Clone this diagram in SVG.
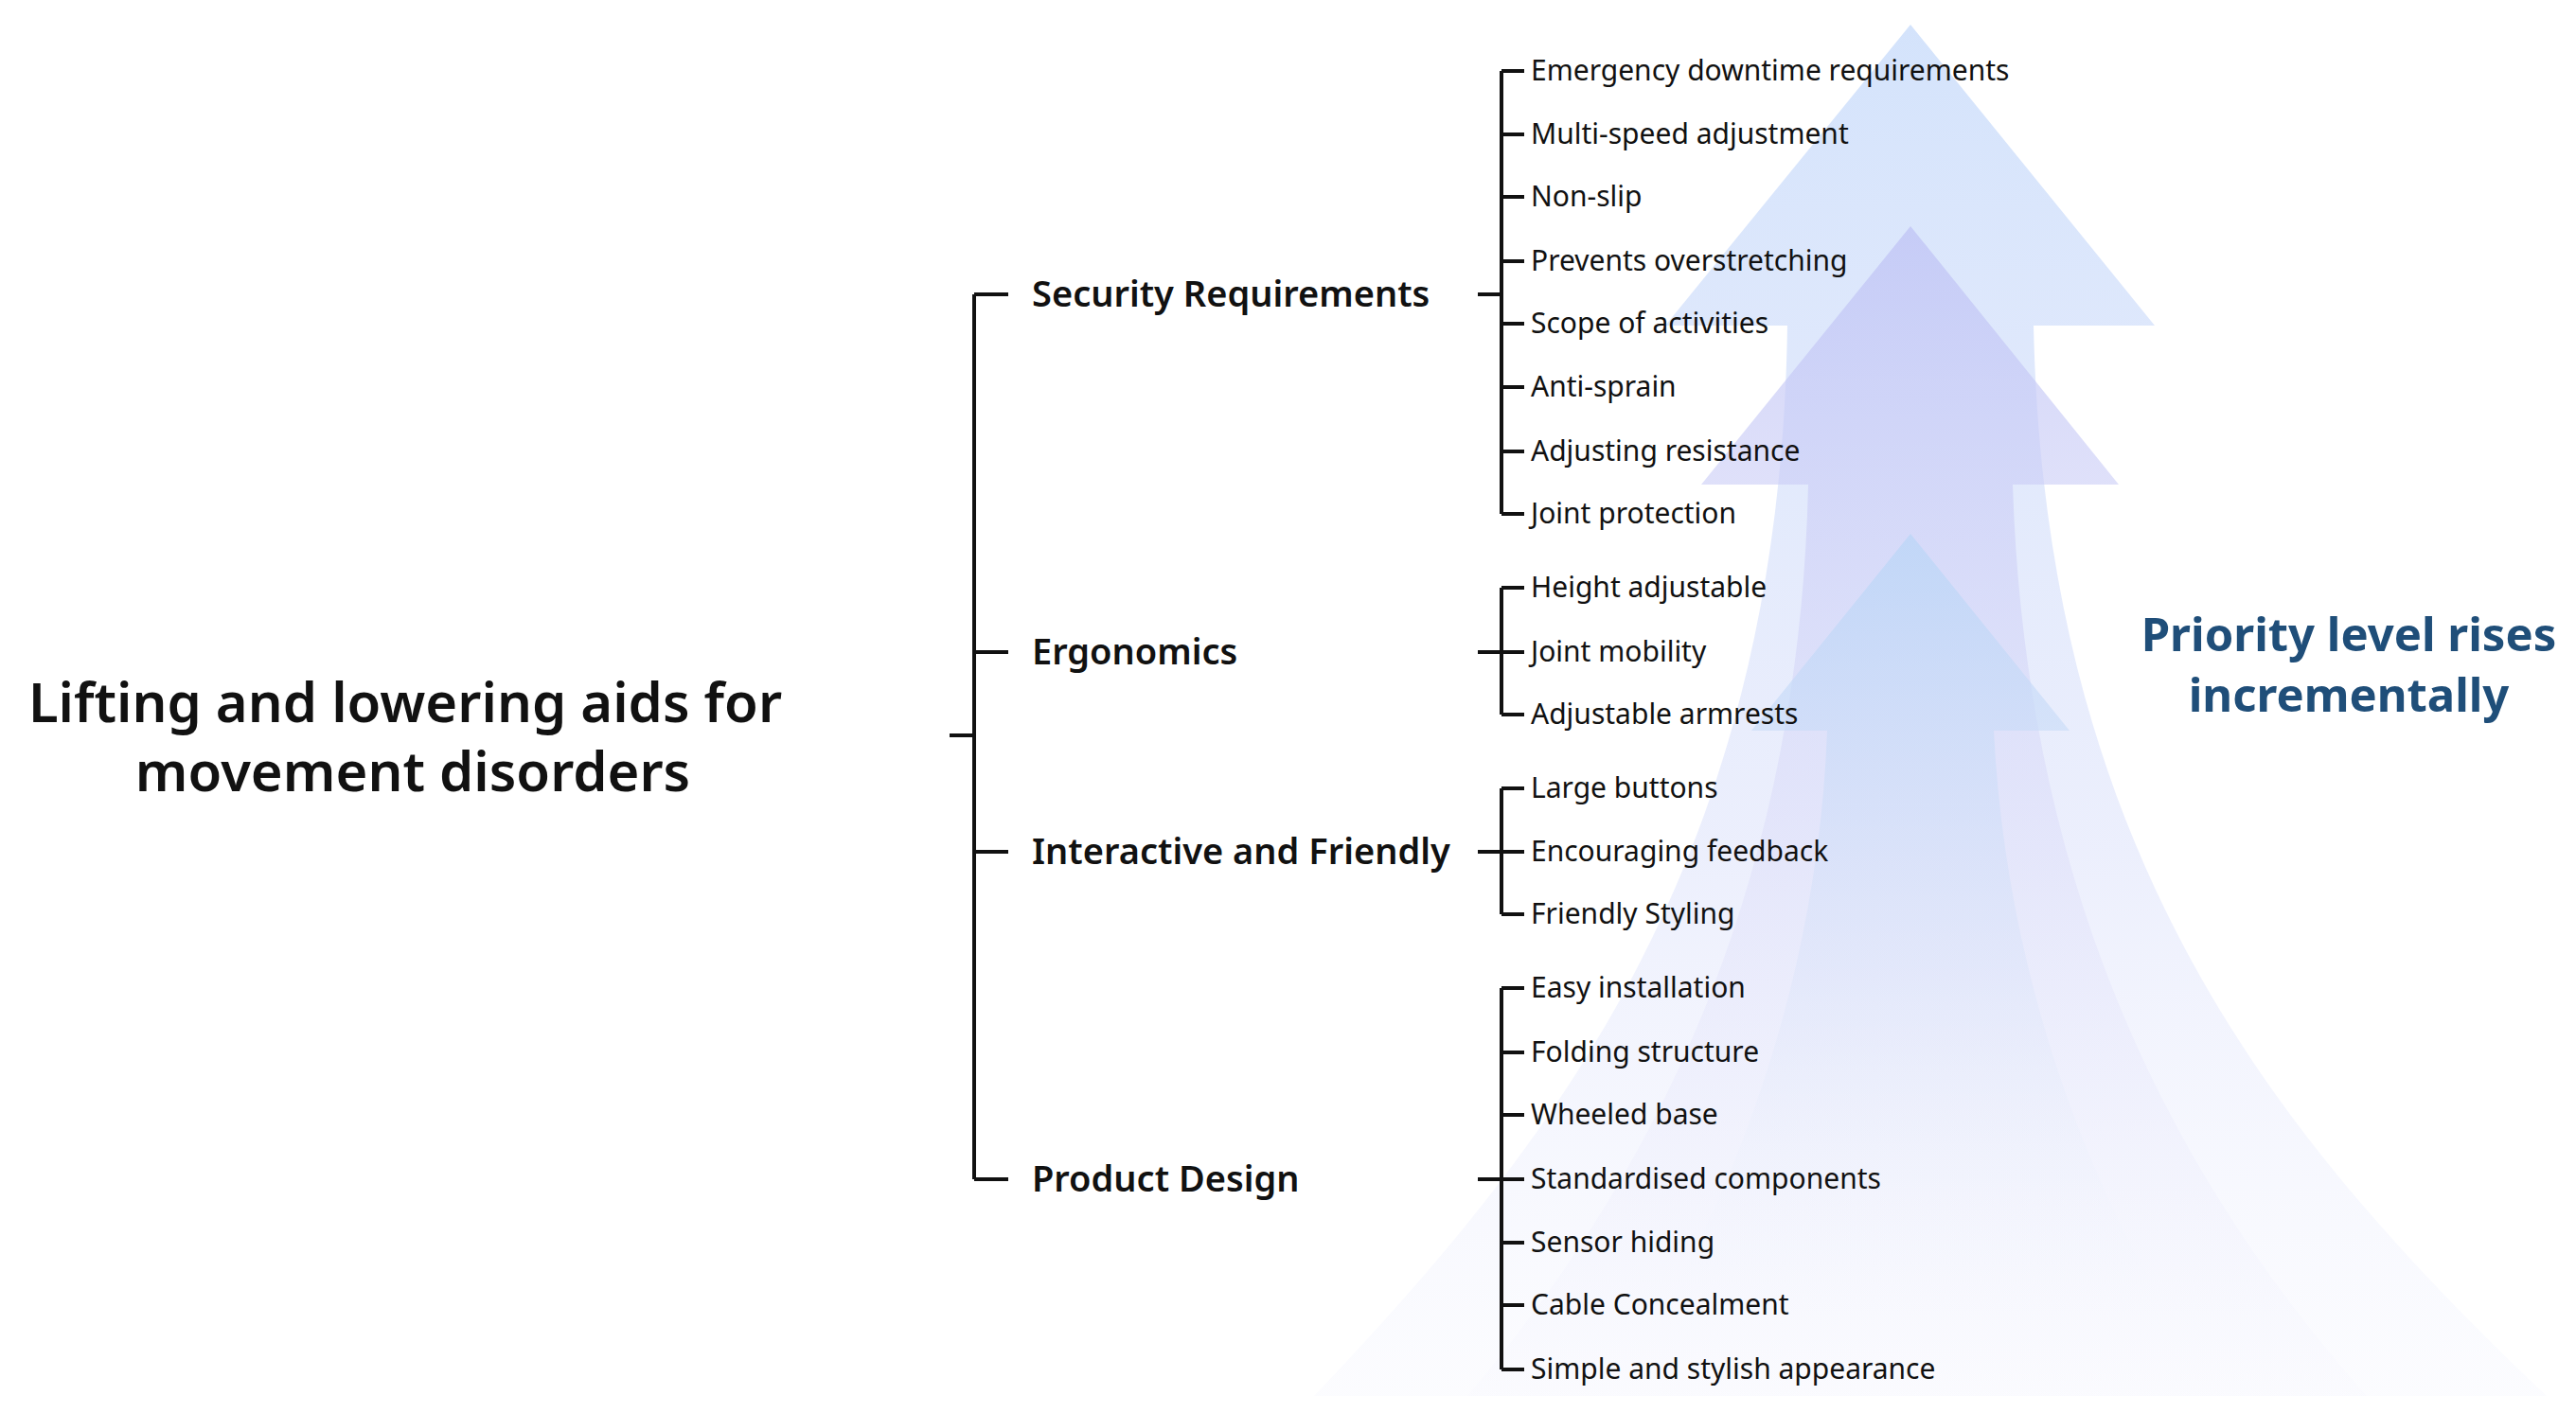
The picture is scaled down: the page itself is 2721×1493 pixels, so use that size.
<svg xmlns="http://www.w3.org/2000/svg" width="2721" height="1493" viewBox="0 0 2721 1493">
<style>
.t{font-family:"Noto Sans","Liberation Sans",sans-serif;fill:#111}
.title{font-size:58px;font-weight:600;text-anchor:middle}
.cat{font-size:38px;font-weight:600}
.sub{font-size:30px}
.pr{font-family:"Noto Sans","Liberation Sans",sans-serif;font-size:49px;font-weight:700;fill:#1f4e79;text-anchor:middle}
.ln{stroke:#111;stroke-width:4;fill:none}
</style>
<defs>
<linearGradient id="g1" x1="0" y1="0" x2="0" y2="1">
<stop offset="0" stop-color="#cfe0fb" stop-opacity="0.9"/><stop offset="0.6" stop-color="#dfe4fb" stop-opacity="0.6"/><stop offset="1" stop-color="#eef0fd" stop-opacity="0.2"/>
</linearGradient>
<linearGradient id="g2" x1="0" y1="0" x2="0" y2="1">
<stop offset="0" stop-color="#bfc3f5" stop-opacity="0.75"/><stop offset="0.5" stop-color="#d6d6f7" stop-opacity="0.4"/><stop offset="1" stop-color="#eeeefc" stop-opacity="0.1"/>
</linearGradient>
<linearGradient id="g3" x1="0" y1="0" x2="0" y2="1">
<stop offset="0" stop-color="#bcd6f7" stop-opacity="0.8"/><stop offset="0.5" stop-color="#d4e0f8" stop-opacity="0.35"/><stop offset="1" stop-color="#ffffff" stop-opacity="0"/>
</linearGradient>
</defs>
<g id="arrows">
<path d="M2018,26 L2276,344 L2148,344 C2160,900 2400,1200 2690,1475 L1388,1475 C1650,1200 1880,900 1888,344 L1759,344 Z" fill="url(#g1)"/>
<path d="M2018,239 L2238,512 L2126,512 C2140,950 2300,1250 2500,1475 L1550,1475 C1740,1250 1900,950 1910,512 L1797,512 Z" fill="url(#g2)"/>
<path d="M2018,564 L2186,772 L2106,772 C2120,1050 2220,1300 2350,1475 L1700,1475 C1820,1300 1920,1050 1930,772 L1850,772 Z" fill="url(#g3)"/>
</g>
<g id="root"><text class="t title" x="428" y="763">Lifting and lowering aids for</text><text class="t title" x="436" y="836">movement disorders</text></g>
<g id="connectors">
<path class="ln" d="M1003,777 H1029 M1029,311 V1246 M1029,311 H1065 M1029,689 H1065 M1029,900 H1065 M1029,1246 H1065"/>
<path class="ln" d="M1561,311 H1586 M1586,75 V543 M1586,75 H1610 M1586,142 H1610 M1586,208 H1610 M1586,276 H1610 M1586,342 H1610 M1586,409 H1610 M1586,477 H1610 M1586,543 H1610"/>
<path class="ln" d="M1561,689 H1610 M1586,621 V755 M1586,621 H1610 M1586,755 H1610"/>
<path class="ln" d="M1561,900 H1610 M1586,833 V966 M1586,833 H1610 M1586,966 H1610"/>
<path class="ln" d="M1561,1246 H1586 M1586,1044 V1447 M1586,1044 H1610 M1586,1112 H1610 M1586,1178 H1610 M1586,1246 H1610 M1586,1313 H1610 M1586,1379 H1610 M1586,1447 H1610"/>
</g>
<g id="cat-security"><text class="t cat" x="1090" y="324">Security Requirements</text></g>
<g id="cat-ergo"><text class="t cat" x="1090" y="702">Ergonomics</text></g>
<g id="cat-interactive"><text class="t cat" x="1090" y="913">Interactive and Friendly</text></g>
<g id="cat-product"><text class="t cat" x="1090" y="1259">Product Design</text></g>
<g id="subs" class="t sub">
<text x="1617" y="85">Emergency downtime requirements</text>
<text x="1617" y="152">Multi-speed adjustment</text>
<text x="1617" y="218">Non-slip</text>
<text x="1617" y="286">Prevents overstretching</text>
<text x="1617" y="352">Scope of activities</text>
<text x="1617" y="419">Anti-sprain</text>
<text x="1617" y="487">Adjusting resistance</text>
<text x="1617" y="553">Joint protection</text>
<text x="1617" y="631">Height adjustable</text>
<text x="1617" y="699">Joint mobility</text>
<text x="1617" y="765">Adjustable armrests</text>
<text x="1617" y="843">Large buttons</text>
<text x="1617" y="910">Encouraging feedback</text>
<text x="1617" y="976">Friendly Styling</text>
<text x="1617" y="1054">Easy installation</text>
<text x="1617" y="1122">Folding structure</text>
<text x="1617" y="1188">Wheeled base</text>
<text x="1617" y="1256">Standardised components</text>
<text x="1617" y="1323">Sensor hiding</text>
<text x="1617" y="1389">Cable Concealment</text>
<text x="1617" y="1457">Simple and stylish appearance</text>
</g>
<g id="priority"><text class="pr" x="2481" y="688">Priority level rises</text><text class="pr" x="2481" y="752">incrementally</text></g>
</svg>
